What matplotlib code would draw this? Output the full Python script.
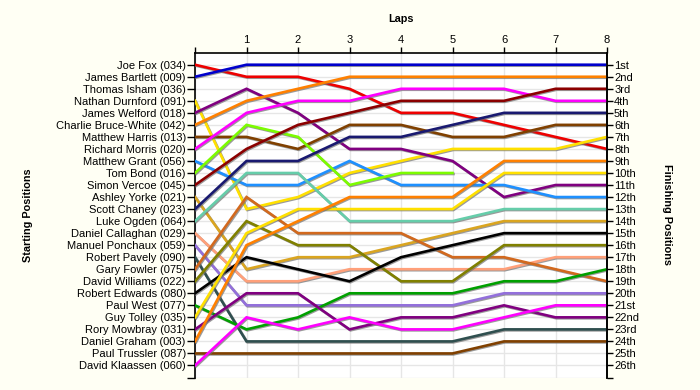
import matplotlib
matplotlib.use("Agg")
import matplotlib.pyplot as plt
import matplotlib.patheffects as pe
import numpy as np

plt.rcParams['font.family'] = ['Liberation Sans', 'DejaVu Sans']

laps = [0, 1, 2, 3, 4, 5, 6, 7, 8]
lap_labels = ["", "1", "2", "3", "4", "5", "6", "7", "8"]

drivers = ["Joe Fox (034)", "James Bartlett (009)", "Thomas Isham (036)",
           "Nathan Durnford (091)", "James Welford (018)", "Charlie Bruce-White (042)",
           "Matthew Harris (013)", "Richard Morris (020)", "Matthew Grant (056)",
           "Tom Bond (016)", "Simon Vercoe (045)", "Ashley Yorke (021)",
           "Scott Chaney (023)", "Luke Ogden (064)", "Daniel Callaghan (029)",
           "Manuel Ponchaux (059)", "Robert Pavely (090)", "Gary Fowler (075)",
           "David Williams (022)", "Robert Edwards (080)", "Paul West (077)",
           "Guy Tolley (035)", "Rory Mowbray (031)", "Daniel Graham (003)",
           "Paul Trussler (087)", "David Klaassen (060)"]

finish_labels = ["1st", "2nd", "3rd", "4th", "5th", "6th", "7th", "8th", "9th",
                 "10th", "11th", "12th", "13th", "14th", "15th", "16th", "17th",
                 "18th", "19th", "20th", "21st", "22nd", "23rd", "24th", "25th", "26th"]

# position of each driver at laps 0..8 (None = retired / did not start)
race_positions = {
    "Joe Fox (034)":             [1, 2, 2, 3, 5, 5, 6, 7, 8],
    "James Bartlett (009)":      [2, 1, 1, 1, 1, 1, 1, 1, 1],
    "Nathan Durnford (091)":     [4, 13, 12, 10, 9, 8, 8, 8, 7],
    "James Welford (018)":       [5, 3, 5, 8, 8, 9, 12, 11, 11],
    "Charlie Bruce-White (042)": [6, 4, 3, 2, 2, 2, 2, 2, 2],
    "Matthew Harris (013)":      [7, 7, 8, 6, 6, 7, 7, 6, 6],
    "Richard Morris (020)":      [8, 5, 4, 4, 3, 3, 3, 4, 4],
    "Matthew Grant (056)":       [9, 11, 11, 9, 11, 11, 11, 12, 12],
    "Tom Bond (016)":            [10, 6, 7, 11, 10, 10, None, None, None],
    "Simon Vercoe (045)":        [11, 8, 6, 5, 4, 4, 4, 3, 3],
    "Ashley Yorke (021)":        [12, 18, 17, 17, 16, 15, 14, 14, 14],
    "Scott Chaney (023)":        [13, 9, 9, 7, 7, 6, 5, 5, 5],
    "Luke Ogden (064)":          [14, 10, 10, 14, 14, 14, 13, 13, 13],
    "Daniel Callaghan (029)":    [15, 19, 19, 18, 18, 18, 18, 17, 17],
    "Manuel Ponchaux (059)":     [16, 21, 21, 21, 21, 21, 20, 20, 20],
    "Robert Pavely (090)":       [17, 24, 24, 24, 24, 24, 23, 23, 23],
    "Gary Fowler (075)":         [18, 12, 15, 15, 15, 17, 17, 18, 19],
    "David Williams (022)":      [19, 14, 16, 16, 19, 19, 16, 16, 16],
    "Robert Edwards (080)":      [20, 17, 18, 19, 17, 16, 15, 15, 15],
    "Paul West (077)":           [21, 23, 22, 20, 20, 20, 19, 19, 18],
    "Guy Tolley (035)":          [22, 15, 13, 13, 13, 13, 10, 10, 10],
    "Rory Mowbray (031)":        [23, 20, 20, 23, 22, 22, 21, 22, 22],
    "Daniel Graham (003)":       [24, 16, 14, 12, 12, 12, 9, 9, 9],
    "Paul Trussler (087)":       [25, 25, 25, 25, 25, 25, 24, 24, 24],
    "David Klaassen (060)":      [26, 22, 23, 22, 23, 23, 22, 21, 21],
}

line_colors = {
    "Joe Fox (034)": "#ee0000",
    "James Bartlett (009)": "#0000cc",
    "Nathan Durnford (091)": "#ffe000",
    "James Welford (018)": "#800080",
    "Charlie Bruce-White (042)": "#ff8000",
    "Matthew Harris (013)": "#804000",
    "Richard Morris (020)": "#ff00ff",
    "Matthew Grant (056)": "#1e90ff",
    "Tom Bond (016)": "#7cfc00",
    "Simon Vercoe (045)": "#8b0000",
    "Ashley Yorke (021)": "#daa520",
    "Scott Chaney (023)": "#191970",
    "Luke Ogden (064)": "#66cdaa",
    "Daniel Callaghan (029)": "#ffa07a",
    "Manuel Ponchaux (059)": "#9370db",
    "Robert Pavely (090)": "#2f4f4f",
    "Gary Fowler (075)": "#d2691e",
    "David Williams (022)": "#808000",
    "Robert Edwards (080)": "#000000",
    "Paul West (077)": "#00a000",
    "Guy Tolley (035)": "#ffe000",
    "Rory Mowbray (031)": "#800080",
    "Daniel Graham (003)": "#ff8000",
    "Paul Trussler (087)": "#804000",
    "David Klaassen (060)": "#ff00ff",
}

BG = "#fffff4"
fig = plt.figure(figsize=(7.0, 3.9), dpi=100, facecolor=BG)
ax = fig.add_axes([195/700, 1-377.5/390, (607-195)/700, (377.5-52.7)/390])
ax.set_facecolor("white")

shadow = [pe.SimpleLineShadow(offset=(0.7, -0.7), shadow_color="#707070", alpha=0.7), pe.Normal()]
for name in drivers:
    if name not in race_positions:
        continue
    pos = [np.nan if p is None else p for p in race_positions[name]]
    ax.plot(laps, pos, color=line_colors[name], lw=1.9, solid_joinstyle="miter",
            path_effects=shadow, zorder=3)

ax.set_xlim(0, 8)
ax.set_ylim(27, 0)

FS = 8.0
ax.set_yticks(list(range(1, 28)))
ax.set_yticklabels(drivers + [""], fontsize=FS)
ax.set_xticks(laps)
ax.xaxis.tick_top()
ax.set_xticklabels(lap_labels, fontsize=FS)
ax.tick_params(axis='x', length=4.3, width=1, pad=1.5, top=True, bottom=False)
ax.tick_params(axis='y', length=5.8, width=1, pad=0.8, left=True, right=False)

ax.grid(True, color="#e6e6e6", lw=1, zorder=0)
ax.set_axisbelow(True)

ax.spines["bottom"].set_visible(False)
for s in ["left", "top", "right"]:
    ax.spines[s].set_linewidth(1.2)

ax2 = ax.twinx()
ax2.set_ylim(27, 0)
ax2.set_yticks(list(range(1, 28)))
ax2.set_yticklabels(finish_labels + [""], fontsize=FS)
ax2.tick_params(axis='y', length=4.3, width=1, pad=0.8)
for s in ["bottom", "left", "top"]:
    ax2.spines[s].set_visible(False)
ax2.spines["right"].set_linewidth(1.2)

fig.text(401/700, 1-19/390, "Laps", ha="center", va="center", fontsize=7.8, fontweight="bold")
fig.text(28/700, 1-215/390, "Starting Positions", ha="center", va="center",
         rotation=90, fontsize=7.8, fontweight="bold")
fig.text(667/700, 1-214/390, "Finishing Positions", ha="center", va="center",
         rotation=270, fontsize=7.8, fontweight="bold")

fig.savefig("out.png", dpi=100, facecolor=BG)
